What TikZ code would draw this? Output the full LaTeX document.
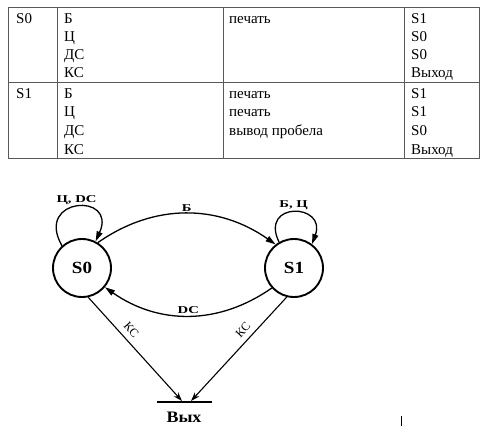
\documentclass[tikz,border=0pt]{standalone}
\usepackage{fontspec}
\setmainfont{Liberation Serif}
\newfontfamily\labfont[FakeStretch=1.4]{Liberation Serif}
\newfontfamily\statefont[FakeStretch=1.12]{Liberation Serif}
\usetikzlibrary{arrows.meta,calc}
\tikzset{
  cell/.style={anchor=base west,inner sep=0pt,font=\fontsize{15}{18}\selectfont},
  state/.style={circle,draw,line width=1.9pt,minimum size=58pt,inner sep=0pt,
    font=\statefont\bfseries\fontsize{17}{18}\selectfont},
  trans/.style={line width=1.3pt,-{Triangle[length=10pt,width=6pt]}},
  exitarr/.style={line width=1.1pt,-{Stealth[length=9pt,width=6pt]}},
  lab/.style={font=\labfont\bfseries\fontsize{10.5}{12}\selectfont,inner sep=1.5pt},
  kclab/.style={font=\fontsize{12}{12}\selectfont,inner sep=1pt,sloped,above=4.5pt,pos=0.38},
  rule/.style={draw=black!65,line width=0.8pt}
}

\begin{document}
\begin{tikzpicture}[x=1pt,y=-1pt]
\useasboundingbox (0,0) rectangle (492,431);

% table
\draw[rule] (8,7.5) rectangle (479,158);
\draw[rule] (8,82) -- (479,82);
\foreach \xc in {57,223,404} \draw[rule] (\xc,7.5) -- (\xc,158);

\node[cell] (st0) at (16,23.3) {S0};
\node[cell] (st1) at (16,98) {S1};
\foreach \txt [count=\i] in {Б,Ц,ДС,КС} {
  \node[cell] (inA\i) at (64,{23.3+18*(\i-1)}) {\txt};
  \node[cell] (inB\i) at (64,{98+18.8*(\i-1)}) {\txt};
}
\node[cell] (actA1) at (229,23.3) {печать};
\foreach \txt [count=\i] in {печать,печать,вывод пробела}
  \node[cell] (actB\i) at (229,{98+18.8*(\i-1)}) {\txt};
\foreach \txt [count=\i] in {S1,S0,S0,Выход}
  \node[cell] (nxA\i) at (411,{23.3+18*(\i-1)}) {\txt};
\foreach \txt [count=\i] in {S1,S1,S0,Выход}
  \node[cell] (nxB\i) at (411,{98+18.8*(\i-1)}) {\txt};

% automaton
\node[state] (s0) at (82,268) {S0};
\node[state] (s1) at (294,268) {S1};

\draw[trans] (s0.58) to[out=35,in=145] node[lab,above] {Б} (s1.128);
\draw[trans] (s1.-138) to[out=-145,in=-35] node[lab,above] {DC} (s0.-40);

\draw[trans] (s0.132) .. controls +(-28,-49) and +(22,-49) .. node[lab,above] {Ц, DC} (s0.63);
\draw[trans] (s1.120) .. controls +(-20,-41) and +(15,-41) .. node[lab,above] {Б, Ц} (s1.53);

\coordinate (exitL) at (182,401);
\coordinate (exitR) at (191,401);
\draw[line width=2pt] (157,402) -- (212,402);
\node[font=\statefont\bfseries\fontsize{16}{18}\selectfont,anchor=base] (vyh) at (184,422) {Вых};

\draw[exitarr] (s0.-78) -- node[kclab] {КС} (exitL);
\draw[exitarr] (s1.-104) -- node[kclab] {КС} (exitR);

\draw[line width=1pt] (401,416) -- (401,426);
\end{tikzpicture}
\end{document}
